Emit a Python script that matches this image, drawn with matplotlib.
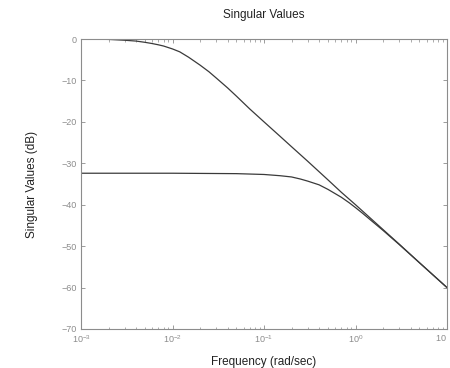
import numpy as np
import matplotlib
matplotlib.use('Agg')
import matplotlib.pyplot as plt

# Values
freq_upper = [0.001, 0.002, 0.003, 0.004, 0.005, 0.006, 0.007, 0.008, 0.01, 0.012,
              0.015, 0.02, 0.025, 0.03, 0.04, 0.05, 0.07, 0.1, 0.15, 0.2, 0.3,
              0.5, 0.7, 1.0, 2.0, 3.0, 5.0, 10.0]
sv_upper = [0.0, -0.1, -0.3, -0.5, -0.8, -1.1, -1.4, -1.7, -2.4, -3.1,
            -4.4, -6.3, -7.9, -9.4, -11.8, -13.8, -16.9, -20.0, -23.5, -26.0, -29.5,
            -34.0, -37.0, -40.0, -46.0, -49.5, -54.0, -60.0]

freq_lower = [0.001, 0.01, 0.05, 0.1, 0.15, 0.2, 0.25, 0.3, 0.4, 0.5, 0.7, 0.85,
              1.0, 1.2, 1.5, 2.0, 3.0, 5.0, 10.0]
sv_lower = [-32.4, -32.4, -32.5, -32.7, -33.0, -33.3, -33.8, -34.3, -35.2, -36.3,
            -38.2, -39.5, -40.7, -42.1, -43.9, -46.2, -49.6, -54.0, -60.0]

xticks = [1e-3, 1e-2, 1e-1, 1e0, 1e1]
xtick_labels = [r'$\mathdefault{10^{-3}}$', r'$\mathdefault{10^{-2}}$',
                r'$\mathdefault{10^{-1}}$', r'$\mathdefault{10^{0}}$',
                r'$\mathdefault{10^{\ }}$']
yticks = [0, -10, -20, -30, -40, -50, -60, -70]

plt.rcParams['font.family'] = ['Liberation Sans', 'DejaVu Sans']

fig = plt.figure(figsize=(4.5, 3.68), dpi=100)
ax = fig.add_axes([81 / 450, 39 / 368, 366 / 450, 290 / 368])

ax.semilogx(freq_upper, sv_upper, color='#3a3a3a', linewidth=0.9)
ax.semilogx(freq_lower, sv_lower, color='#3a3a3a', linewidth=0.9)

ax.set_xlim(1e-3, 10)
ax.set_ylim(-70, 0)
ax.set_xticks(xticks, xtick_labels)
ax.set_yticks(yticks)
# keep the last x label inside the figure
ax.get_xticklabels()[-1].set_horizontalalignment('right')

grey = '#8c8c8c'
for s in ax.spines.values():
    s.set_color(grey)
    s.set_linewidth(0.8)
ax.tick_params(which='both', direction='in', top=True, right=True,
               colors=grey, labelsize=6.5, pad=3)
ax.tick_params(which='major', length=3, width=0.6)
ax.tick_params(which='minor', length=1.8, width=0.5)

ax.set_title('Singular Values', fontsize=8.5, color='#222222', pad=15)
ax.set_xlabel('Frequency (rad/sec)', fontsize=8.5, color='#222222', labelpad=8)
ax.set_ylabel('Singular Values (dB)', fontsize=8.5, color='#222222', labelpad=17)

fig.savefig('out.png', dpi=100)
